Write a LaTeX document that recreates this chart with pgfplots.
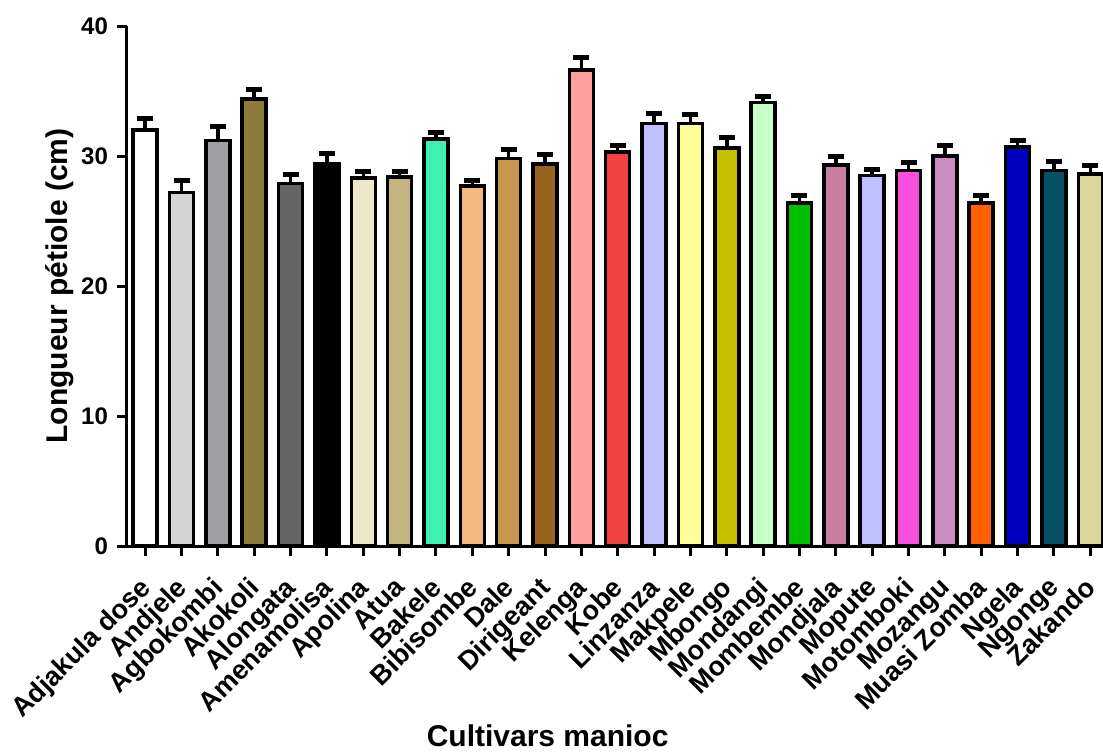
\documentclass[border=0pt]{standalone}
\usepackage{fontspec}
\setmainfont{Liberation Sans}
\usepackage{pgfplots}
\pgfplotsset{compat=1.18}

% bar fills, one per cultivar
\definecolor{c1}{HTML}{FFFFFF}
\definecolor{c2}{HTML}{D4D4D4}
\definecolor{c3}{HTML}{A09FA4}
\definecolor{c4}{HTML}{8C7B3A}
\definecolor{c5}{HTML}{646464}
\definecolor{c6}{HTML}{000000}
\definecolor{c7}{HTML}{EDE7CB}
\definecolor{c8}{HTML}{C4B57E}
\definecolor{c9}{HTML}{40F0B0}
\definecolor{c10}{HTML}{F2B87E}
\definecolor{c11}{HTML}{C8964F}
\definecolor{c12}{HTML}{98621F}
\definecolor{c13}{HTML}{FFA0A0}
\definecolor{c14}{HTML}{F44242}
\definecolor{c15}{HTML}{C0C0FF}
\definecolor{c16}{HTML}{FFFF99}
\definecolor{c17}{HTML}{C4C000}
\definecolor{c18}{HTML}{C8FFC8}
\definecolor{c19}{HTML}{00C000}
\definecolor{c20}{HTML}{C87DA0}
\definecolor{c21}{HTML}{C0C0FF}
\definecolor{c22}{HTML}{F850DC}
\definecolor{c23}{HTML}{C88CBE}
\definecolor{c24}{HTML}{FF6000}
\definecolor{c25}{HTML}{0000C0}
\definecolor{c26}{HTML}{055064}
\definecolor{c27}{HTML}{D8D69A}

\begin{document}
\begin{tikzpicture}
\begin{axis}[
  scale only axis, width=488pt, height=260pt,
  xmin=-0.5, xmax=26.35, ymin=0, ymax=40,
  axis x line*=bottom, axis y line*=left,
  axis line style={line width=1.5pt, black},
  ytick={0,10,20,30,40},
  xtick={0,...,26},
  xticklabels={Adjakula dose,Andjele,Agbokombi,Akokoli,Alongata,Amenamolisa,Apolina,Atua,Bakele,Bibisombe,Dale,Dirigeant,Kelenga,Kobe,Linzanza,Makpele,Mbongo,Mondangi,Mombembe,Mondjala,Mopute,Motomboki,Mozangu,Muasi Zomba,Ngela,Ngonge,Zakando},
  x tick label style={xshift=-3.5pt, yshift=-9.5pt, rotate=45,
    anchor=north east, inner sep=0pt,
    font=\bfseries\fontsize{13.5}{15}\selectfont},
  y tick label style={font=\bfseries\fontsize{12}{14}\selectfont, xshift=-1pt},
  /pgf/number format/assume math mode=true,
  tick align=outside, major tick length=5pt,
  tick style={line width=1.5pt, black},
  ylabel={Longueur pétiole (cm)},
  xlabel={Cultivars manioc},
  label style={font=\bfseries\fontsize{15}{17}\selectfont},
  ylabel style={at={(axis description cs:0,0.5)}, anchor=center, yshift=33.5pt},
  xlabel style={at={(axis description cs:0.431,0)}, anchor=center, yshift=-95pt},
  ybar, bar width=0.66,
  cb/.style={fill=#1, draw=black, line width=1.75pt, bar shift=0pt,
    error bars/y dir=plus, error bars/y explicit,
    error bars/error bar style={line width=1.75pt, black},
    error bars/error mark options={rotate=90, line width=2.5pt, black, mark size=4pt}},
  clip=false,
]
\addplot[cb=c1]  coordinates {(0,32.0)  +- (0,0.85)};
\addplot[cb=c2]  coordinates {(1,27.2)  +- (0,0.9)};
\addplot[cb=c3]  coordinates {(2,31.2)  +- (0,1.1)};
\addplot[cb=c4]  coordinates {(3,34.4)  +- (0,0.7)};
\addplot[cb=c5]  coordinates {(4,27.9)  +- (0,0.7)};
\addplot[cb=c6]  coordinates {(5,29.4)  +- (0,0.8)};
\addplot[cb=c7]  coordinates {(6,28.3)  +- (0,0.5)};
\addplot[cb=c8]  coordinates {(7,28.4)  +- (0,0.4)};
\addplot[cb=c9]  coordinates {(8,31.3)  +- (0,0.5)};
\addplot[cb=c10] coordinates {(9,27.7)  +- (0,0.4)};
\addplot[cb=c11] coordinates {(10,29.8) +- (0,0.7)};
\addplot[cb=c12] coordinates {(11,29.4) +- (0,0.7)};
\addplot[cb=c13] coordinates {(12,36.6) +- (0,1.0)};
\addplot[cb=c14] coordinates {(13,30.3) +- (0,0.5)};
\addplot[cb=c15] coordinates {(14,32.5) +- (0,0.8)};
\addplot[cb=c16] coordinates {(15,32.5) +- (0,0.7)};
\addplot[cb=c17] coordinates {(16,30.6) +- (0,0.8)};
\addplot[cb=c18] coordinates {(17,34.1) +- (0,0.5)};
\addplot[cb=c19] coordinates {(18,26.4) +- (0,0.6)};
\addplot[cb=c20] coordinates {(19,29.3) +- (0,0.7)};
\addplot[cb=c21] coordinates {(20,28.5) +- (0,0.5)};
\addplot[cb=c22] coordinates {(21,28.9) +- (0,0.6)};
\addplot[cb=c23] coordinates {(22,30.0) +- (0,0.8)};
\addplot[cb=c24] coordinates {(23,26.4) +- (0,0.6)};
\addplot[cb=c25] coordinates {(24,30.7) +- (0,0.5)};
\addplot[cb=c26] coordinates {(25,28.9) +- (0,0.7)};
\addplot[cb=c27] coordinates {(26,28.6) +- (0,0.7)};
\end{axis}
% page frame: same margins round the axis as the original figure
\pgfresetboundingbox
\useasboundingbox (-63.5pt,-103pt) rectangle (488pt,273pt);
\end{tikzpicture}
\end{document}
